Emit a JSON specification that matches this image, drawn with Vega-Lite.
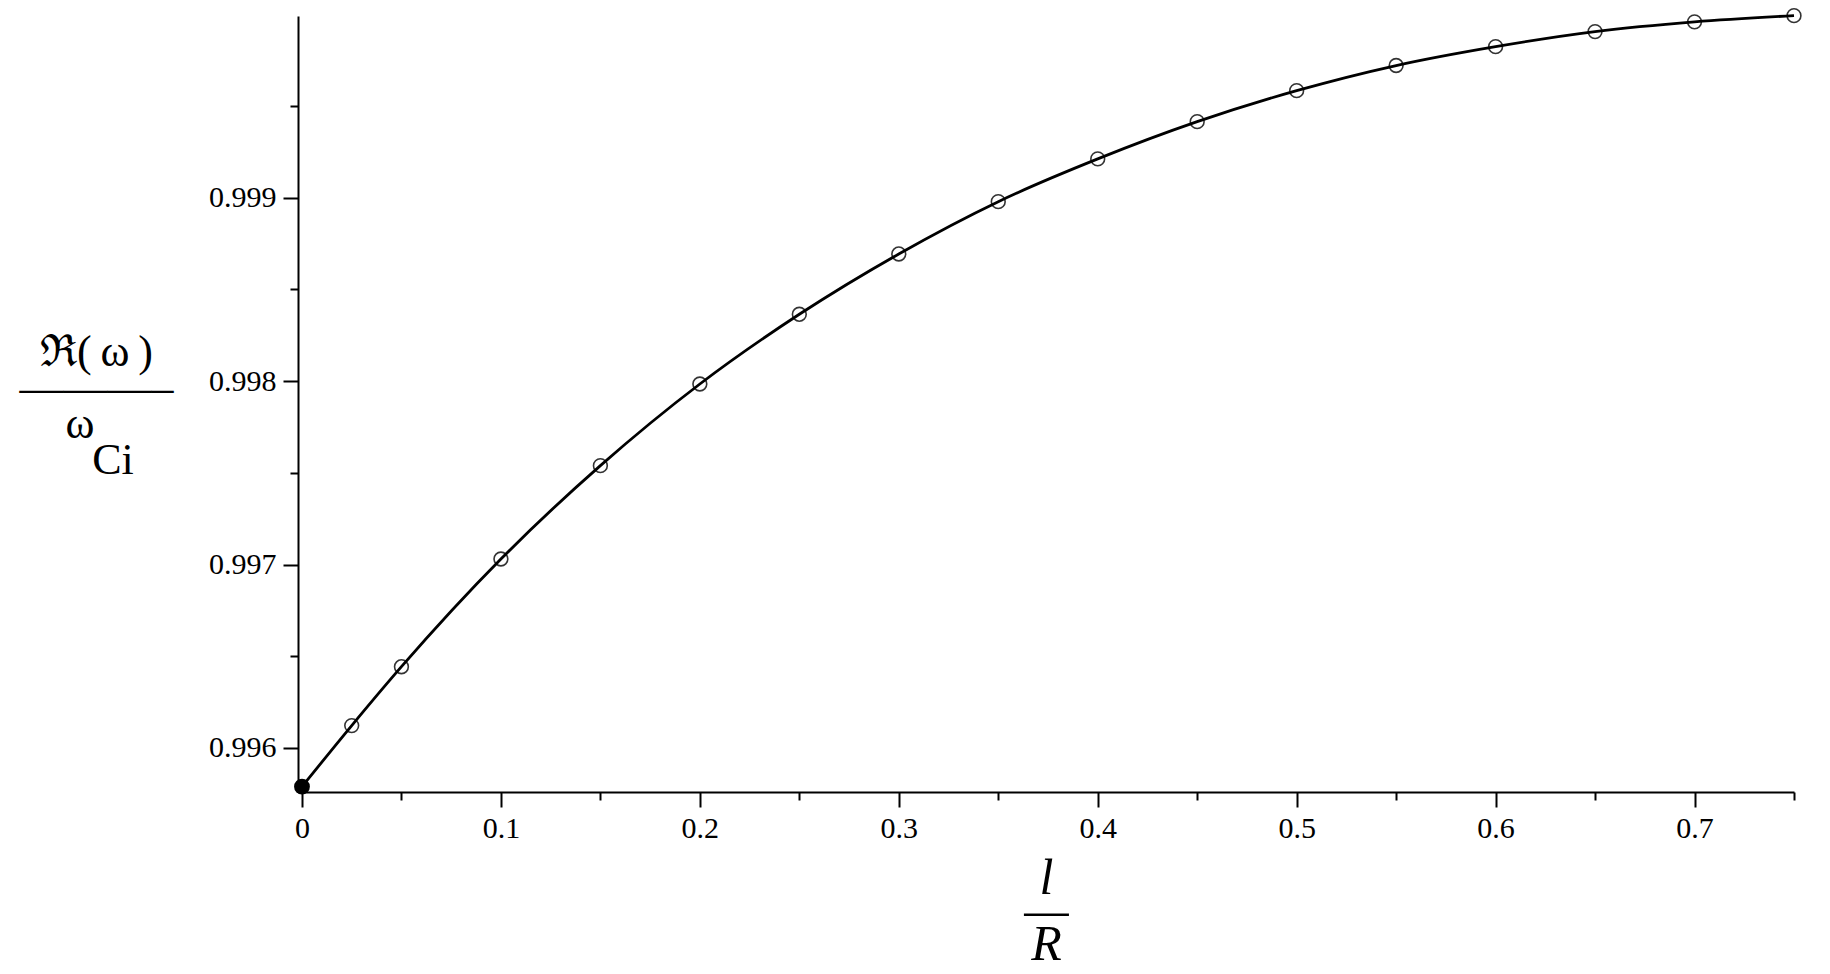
{
  "$schema": "https://vega.github.io/schema/vega-lite/v6.json",
  "width": 1496,
  "height": 776,
  "autosize": "none",
  "padding": {"left": 298, "top": 16, "right": 36, "bottom": 182},
  "background": "white",
  "config": {
    "view": {"stroke": null},
    "axis": {
      "domainColor": "black",
      "domainWidth": 2,
      "tickColor": "black",
      "tickWidth": 2,
      "labelFont": "Liberation Serif",
      "labelFontSize": 30,
      "labelColor": "black",
      "titleFont": "Liberation Serif",
      "titleFontWeight": "normal",
      "titleColor": "black",
      "grid": false,
      "labelOverlap": false,
      "labelFlush": false
    }
  },
  "data": {
    "values": [
      {"x": 0, "y": 0.995789},
      {"x": 0.025, "y": 0.996122},
      {"x": 0.05, "y": 0.996443},
      {"x": 0.1, "y": 0.99703},
      {"x": 0.15, "y": 0.997539},
      {"x": 0.2, "y": 0.997984},
      {"x": 0.25, "y": 0.998364},
      {"x": 0.3, "y": 0.998693},
      {"x": 0.35, "y": 0.998978},
      {"x": 0.4, "y": 0.999211},
      {"x": 0.45, "y": 0.999414},
      {"x": 0.5, "y": 0.999583},
      {"x": 0.55, "y": 0.99972},
      {"x": 0.6, "y": 0.999823},
      {"x": 0.65, "y": 0.999905},
      {"x": 0.7, "y": 0.999958},
      {"x": 0.75, "y": 0.999992}
    ]
  },
  "encoding": {
    "x": {
      "field": "x",
      "type": "quantitative",
      "scale": {"domain": [-0.002, 0.75], "nice": false, "zero": false},
      "axis": {
        "values": [0, 0.05, 0.1, 0.15, 0.2, 0.25, 0.3, 0.35, 0.4, 0.45, 0.5, 0.55, 0.6, 0.65, 0.7, 0.75],
        "labelExpr": "abs(datum.value*10 - round(datum.value*10)) < 0.001 ? format(datum.value, '.1~f') : ''",
        "tickSize": {"condition": {"test": "abs(datum.value*10 - round(datum.value*10)) < 0.001", "value": 15}, "value": 8},
        "labelPadding": 6,
        "title": ["l", "\u2014", "R"],
        "titleFontStyle": "italic",
        "titleFontSize": 50,
        "titleLineHeight": 33,
        "titleAlign": "center",
        "titleBaseline": "middle",
        "titleX": 748,
        "titleY": 86
      }
    },
    "y": {
      "field": "y",
      "type": "quantitative",
      "scale": {"domain": [0.99576, 0.99999], "nice": false, "zero": false},
      "axis": {
        "values": [0.996, 0.9965, 0.997, 0.9975, 0.998, 0.9985, 0.999, 0.9995],
        "labelExpr": "abs(datum.value*1000 - round(datum.value*1000)) < 0.001 ? format(datum.value, '.3f') : ''",
        "tickSize": {"condition": {"test": "abs(datum.value*1000 - round(datum.value*1000)) < 0.001", "value": 15}, "value": 8},
        "labelPadding": 7,
        "title": ["\u211c(\u2009\u03c9\u2009)", "\u2014\u2014\u2014\u2013", "\u200b\u03c9\u00a0\u00a0\u00a0\u200b", "\u200b\u00a0\u00a0\u00a0Ci\u200b"],
        "titleAngle": 0,
        "titleFontSize": 44,
        "titleLineHeight": 36,
        "titleAlign": "center",
        "titleBaseline": "middle",
        "titleX": -202,
        "titleY": 336
      }
    }
  },
  "layer": [
    {
      "transform": [{"filter": "datum.x > 0"}],
      "mark": {"type": "point", "shape": "circle", "filled": false, "stroke": "#333333", "strokeWidth": 1.6, "size": 190, "opacity": 1}
    },
    {
      "mark": {"type": "line", "color": "black", "strokeWidth": 2.8, "interpolate": "monotone"}
    },
    {
      "transform": [{"filter": "datum.x == 0"}],
      "mark": {"type": "point", "shape": "circle", "filled": true, "color": "black", "size": 250, "opacity": 1}
    }
  ]
}
